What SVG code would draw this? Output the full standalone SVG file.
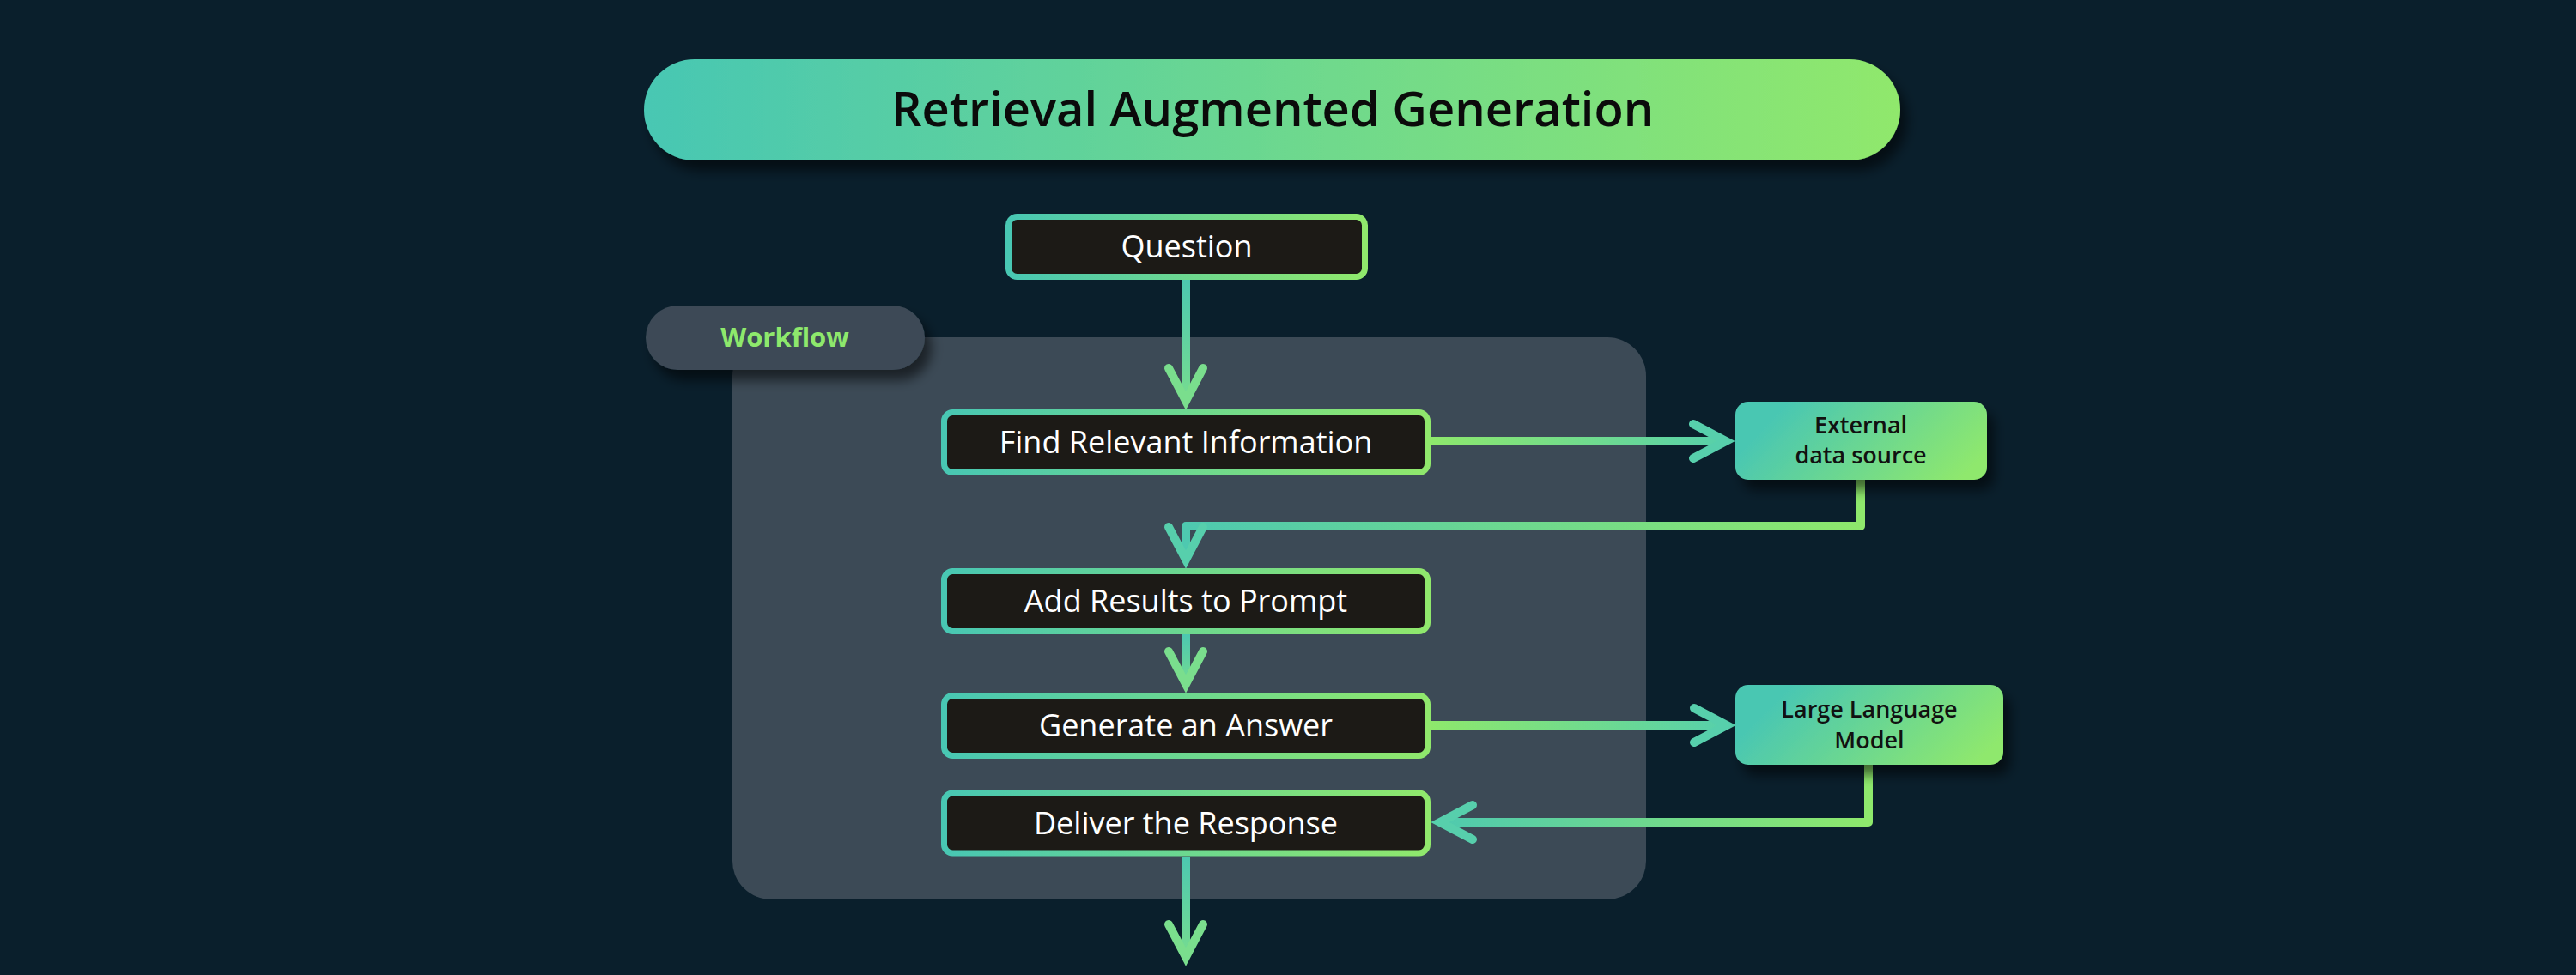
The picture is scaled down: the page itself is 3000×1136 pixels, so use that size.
<svg xmlns="http://www.w3.org/2000/svg" width="3000" height="1136" viewBox="0 0 3000 1136">
<defs>
  <linearGradient id="gH" x1="0" y1="0" x2="1" y2="0">
    <stop offset="0" stop-color="#48c7b3"/>
    <stop offset="1" stop-color="#90e86c"/>
  </linearGradient>
  <linearGradient id="gD" x1="0" y1="0.35" x2="1" y2="0.65">
    <stop offset="0.1" stop-color="#4ac7b2"/>
    <stop offset="1" stop-color="#8fe86d"/>
  </linearGradient>
  <linearGradient id="c1" gradientUnits="userSpaceOnUse" x1="0" y1="326" x2="0" y2="477">
    <stop offset="0" stop-color="#4cc8b0"/><stop offset="1" stop-color="#7ade8d"/>
  </linearGradient>
  <linearGradient id="c2" gradientUnits="userSpaceOnUse" x1="1666" y1="0" x2="2020" y2="0">
    <stop offset="0" stop-color="#8ee86c"/><stop offset="1" stop-color="#55cfad"/>
  </linearGradient>
  <linearGradient id="c3" gradientUnits="userSpaceOnUse" x1="2167" y1="0" x2="1381" y2="0">
    <stop offset="0" stop-color="#8ee86c"/><stop offset="1" stop-color="#4ec9b0"/>
  </linearGradient>
  <linearGradient id="c4" gradientUnits="userSpaceOnUse" x1="0" y1="739" x2="0" y2="807">
    <stop offset="0" stop-color="#4cc8b0"/><stop offset="1" stop-color="#7ade8d"/>
  </linearGradient>
  <linearGradient id="c5" gradientUnits="userSpaceOnUse" x1="1666" y1="0" x2="2020" y2="0">
    <stop offset="0" stop-color="#8ee86c"/><stop offset="1" stop-color="#55cfad"/>
  </linearGradient>
  <linearGradient id="c6" gradientUnits="userSpaceOnUse" x1="2176" y1="0" x2="1667" y2="0">
    <stop offset="0" stop-color="#8ee86c"/><stop offset="1" stop-color="#4ec9b0"/>
  </linearGradient>
  <linearGradient id="c7" gradientUnits="userSpaceOnUse" x1="0" y1="998" x2="0" y2="1125">
    <stop offset="0" stop-color="#4cc8b0"/><stop offset="1" stop-color="#7ade8d"/>
  </linearGradient>
  <filter id="sh" x="-10%" y="-30%" width="130%" height="180%">
    <feDropShadow dx="8" dy="12" stdDeviation="7" flood-color="#000" flood-opacity="0.55"/>
  </filter>
  <marker id="aTeal" markerUnits="userSpaceOnUse" markerWidth="80" markerHeight="80" refX="0" refY="0" viewBox="-60 -40 80 80" orient="auto" overflow="visible">
    <path d="M-33,-20 L5,0 L-33,20" fill="none" stroke="#57cfac" stroke-width="10" stroke-linecap="round" stroke-linejoin="miter" stroke-miterlimit="6"/>
  </marker>
  <marker id="aGreen" markerUnits="userSpaceOnUse" markerWidth="80" markerHeight="80" refX="0" refY="0" viewBox="-60 -40 80 80" orient="auto" overflow="visible">
    <path d="M-33,-20 L5,0 L-33,20" fill="none" stroke="#7ade8d" stroke-width="10" stroke-linecap="round" stroke-linejoin="miter" stroke-miterlimit="6"/>
  </marker>
</defs>
<style>
  .box { fill: #1c1a16; stroke: url(#gH); stroke-width: 7; }
  .boxt { font-family: "Open Sans", "Noto Sans", sans-serif; font-size: 36px; fill: #ffffff; text-anchor: middle; }
  .side { fill: url(#gD); filter: url(#sh); }
  .sidet { font-family: "Open Sans", "Noto Sans", sans-serif; font-size: 27px; font-weight: 600; fill: #111111; text-anchor: middle; }
  .conn { fill: none; stroke-width: 10; stroke-linejoin: round; }
</style>
<rect x="0" y="0" width="3000" height="1136" fill="#0a1f2c"/>

<g id="title">
  <rect x="750" y="69" width="1463" height="118" rx="59" fill="url(#gH)" filter="url(#sh)"/>
  <text x="1482" y="147" font-family="Open Sans, Noto Sans, sans-serif" font-size="56" font-weight="600" fill="#0b0b0b" text-anchor="middle">Retrieval Augmented Generation</text>
</g>

<g id="workflow">
  <rect x="853" y="393" width="1064" height="655" rx="45" fill="#3c4a56"/>
  <rect x="752" y="356" width="325" height="75" rx="37.5" fill="#3c4a56" filter="url(#sh)"/>
  <text x="914" y="404" font-family="Open Sans, Noto Sans, sans-serif" font-size="31" font-weight="700" fill="#8ee86c" text-anchor="middle">Workflow</text>
</g>

<g id="connectors">
  <path class="conn" stroke="url(#c1)" d="M1381,326 V462" marker-end="url(#aGreen)"/>
  <path class="conn" stroke="url(#c2)" d="M1666,514 H2005" marker-end="url(#aTeal)"/>
  <path class="conn" stroke="url(#c3)" d="M2167,559 V613 H1381 V647" marker-end="url(#aTeal)"/>
  <path class="conn" stroke="url(#c4)" d="M1381,739 V792" marker-end="url(#aGreen)"/>
  <path class="conn" stroke="url(#c5)" d="M1666,845 H2006" marker-end="url(#aTeal)"/>
  <path class="conn" stroke="url(#c6)" d="M2176,891 V958 H1682" marker-end="url(#aTeal)"/>
  <path class="conn" stroke="url(#c7)" d="M1381,998 V1110" marker-end="url(#aGreen)"/>
</g>

<g id="question">
  <rect class="box" x="1174.5" y="252.5" width="415" height="70" rx="10"/>
  <text class="boxt" x="1382" y="300">Question</text>
</g>
<g id="find">
  <rect class="box" x="1099.5" y="480.5" width="563" height="70" rx="10"/>
  <text class="boxt" x="1381" y="528">Find Relevant Information</text>
</g>
<g id="add">
  <rect class="box" x="1099.5" y="665.5" width="563" height="70" rx="10"/>
  <text class="boxt" x="1381" y="713">Add Results to Prompt</text>
</g>
<g id="generate">
  <rect class="box" x="1099.5" y="810.5" width="563" height="70" rx="10"/>
  <text class="boxt" x="1381" y="858">Generate an Answer</text>
</g>
<g id="deliver">
  <rect class="box" x="1099.5" y="924" width="563" height="70" rx="10"/>
  <text class="boxt" x="1381" y="972">Deliver the Response</text>
</g>

<g id="external">
  <rect class="side" x="2021" y="468" width="293" height="91" rx="15"/>
  <text class="sidet" x="2167" y="505">External</text>
  <text class="sidet" x="2167" y="540">data source</text>
</g>
<g id="llm">
  <rect class="side" x="2021" y="798" width="312" height="93" rx="15"/>
  <text class="sidet" x="2177" y="836">Large Language</text>
  <text class="sidet" x="2177" y="872">Model</text>
</g>
</svg>
